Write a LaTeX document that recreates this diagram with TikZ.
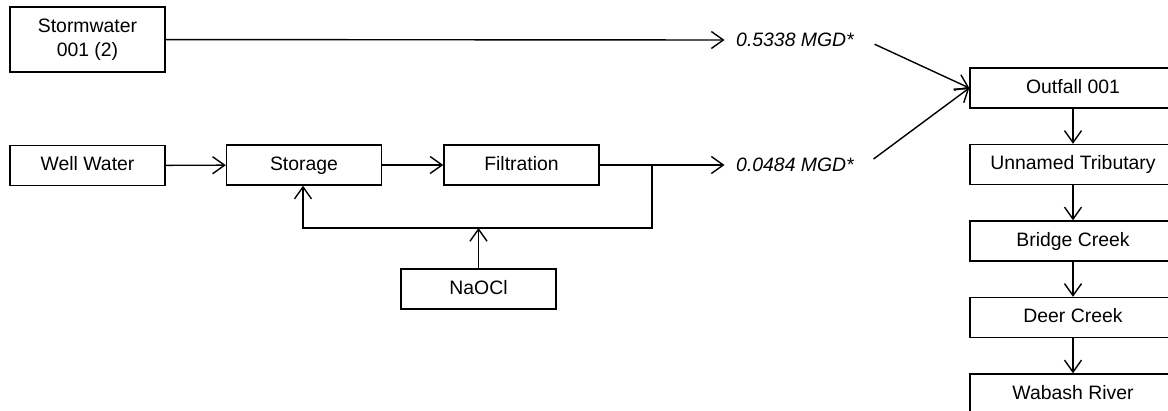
\documentclass[tikz,border=0pt]{standalone}
\usepackage{fontspec}
\setmainfont{Liberation Sans}
\usetikzlibrary{arrows.meta,positioning}
\tikzset{
  >={Straight Barb[length=6pt,width=8.5pt]},
  every picture/.style={line width=0.7pt},
  tbox/.style={draw=black, align=center, minimum width=77.5pt, minimum height=20pt,
              inner sep=1pt, font=\fontsize{9.7}{12}\selectfont},
  box/.style={tbox, text height=0.72em, text depth=0.2em},
  rbox/.style={box, minimum width=103pt},
  lbl/.style={font=\fontsize{9.7}{12}\selectfont\itshape, inner sep=5.5pt},
  flow/.style={->, draw=black},
}
\begin{document}
\begin{tikzpicture}[x=0.5pt,y=-0.5pt]
  \useasboundingbox (0,0) rectangle (1168,411);
  \clip (0,0) rectangle (1168,411);
  % source boxes
  \node[tbox,minimum height=32.5pt] (storm) at (87.5,39.5){Stormwater\\001 (2)};
  \node[box] (well) at (87.5,165.5){Well Water};
  \node[box] (storage) at (304,165){Storage};
  \node[box] (filt) at (521.5,165){Filtration};
  \node[box] (naocl) at (478.5,289){NaOCl};
  % flow labels
  \node[lbl] (q1) at (795,40){0.5338 MGD*};
  \node[lbl] (q2) at (795,165){0.0484 MGD*};
  % receiving waters
  \node[rbox] (outfall) at (1073,88){Outfall 001};
  \node[rbox] (trib) at (1073,164.5){Unnamed Tributary};
  \node[rbox] (bridge) at (1073,241){Bridge Creek};
  \node[rbox] (deer) at (1073,317.5){Deer Creek};
  \node[rbox] (wabash) at (1073,394){Wabash River};
  % treatment line
  \draw[flow] (storm) -- (q1.west);
  \draw[flow] (well) -- (storage);
  \draw[flow] (storage) -- (filt);
  \draw[flow] (filt) -- (q2.west);
  % recirculation
  \coordinate (br) at (652,165);
  \coordinate (fb) at (652,228);
  \coordinate (fbl) at (303,228);
  \draw[flow] (br) -- (fb) -- (fbl) -- (storage.south -| fbl);
  \draw[flow] (naocl) -- (naocl |- fb);
  % to outfall
  \draw[flow,shorten <=5pt] (q1.east) -- (outfall.west);
  \draw[flow,shorten <=5pt] (q2.east) -- (outfall.west);
  \draw[flow] (outfall) -- (trib);
  \draw[flow] (trib) -- (bridge);
  \draw[flow] (bridge) -- (deer);
  \draw[flow] (deer) -- (wabash);
\end{tikzpicture}
\end{document}
